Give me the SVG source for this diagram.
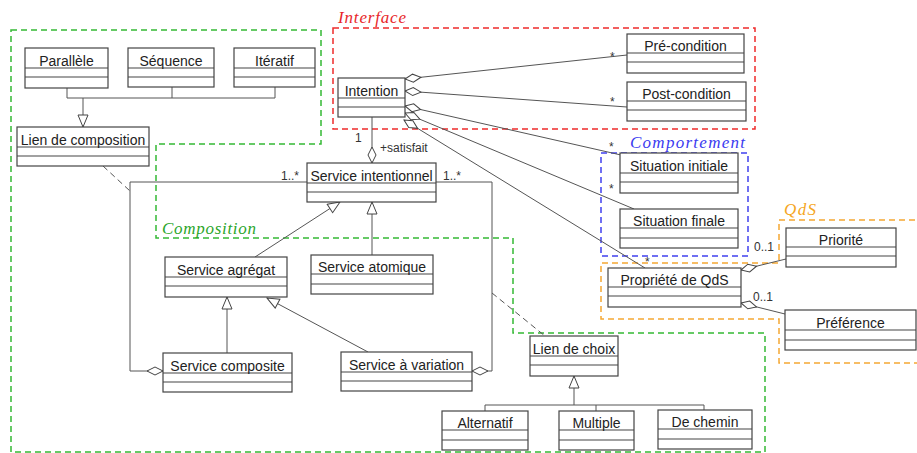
<svg xmlns="http://www.w3.org/2000/svg" width="917" height="453" viewBox="0 0 917 453">
<style>
.box rect{fill:#fff;stroke:#444;stroke-width:1.2}
.box line{stroke:#444;stroke-width:1.2}
.box text{font-family:"Liberation Sans",Arial,sans-serif;font-size:14px;fill:#222;text-anchor:middle}
.c{fill:none;stroke:#555;stroke-width:1}
.dash{stroke-dasharray:6,4}
.lbl{font-family:"Liberation Sans",Arial,sans-serif;font-size:12px;fill:#333}
.grp{font-family:"Liberation Serif","Times New Roman",serif;font-style:italic;font-size:17px}
.zone{fill:none;stroke-width:1.5;stroke-dasharray:6,4}
</style>
<defs>
<marker id="dia" markerUnits="userSpaceOnUse" markerWidth="18" markerHeight="12" refX="1" refY="5" orient="auto"><path d="M1,5 L9,1 L17,5 L9,9 Z" fill="#fff" stroke="#444" stroke-width="1"/></marker>
<marker id="tri" markerUnits="userSpaceOnUse" markerWidth="14" markerHeight="14" refX="13" refY="6" orient="auto"><path d="M1,1 L13,6 L1,11 Z" fill="#fff" stroke="#444" stroke-width="1"/></marker>
</defs>
<rect width="917" height="453" fill="#fff"/>

<g id="zones">
<polygon class="zone" stroke="#35b935" points="11,30 321,30 321,144 156,144 156,238 513,238 513,333 765,333 765,452 11,452"/>
<text class="grp" x="162" y="234" fill="#2aa52a" textLength="94">Composition</text>
<rect class="zone" stroke="#ee2b2b" x="333" y="28" width="422" height="101"/>
<text class="grp" x="338" y="23" fill="#e8262b" textLength="68">Interface</text>
<rect class="zone" stroke="#4040ee" x="601" y="153" width="147" height="103"/>
<text class="grp" x="630" y="148" fill="#3a3af0" textLength="115">Comportement</text>
<polygon class="zone" stroke="#f5a833" points="779,220 918,220 918,363 779,363 779,319 601,319 601,263 779,263"/>
<text class="grp" x="784" y="215" fill="#f5a623" textLength="32">QdS</text>
</g>

<g id="connectors">
<polyline class="c" points="67,88 67,98 275,98 275,87"/>
<line class="c" x1="172" y1="87" x2="172" y2="98"/>
<line class="c" x1="83" y1="98" x2="83" y2="127" marker-end="url(#tri)"/>
<line class="c" x1="372" y1="163" x2="372" y2="117" marker-start="url(#dia)"/>
<line class="c" x1="405" y1="79" x2="627" y2="55" marker-start="url(#dia)"/>
<line class="c" x1="405" y1="91" x2="627" y2="107" marker-start="url(#dia)"/>
<line class="c" x1="405" y1="106" x2="621" y2="155" marker-start="url(#dia)"/>
<line class="c" x1="405" y1="113" x2="634" y2="209" marker-start="url(#dia)"/>
<line class="c" x1="404" y1="120" x2="645" y2="268" marker-start="url(#dia)"/>
<line class="c" x1="741" y1="270" x2="786" y2="259" marker-start="url(#dia)"/>
<line class="c" x1="741" y1="303" x2="785" y2="314" marker-start="url(#dia)"/>
<polyline class="c" points="163,371 130,371 130,182 307,182" marker-start="url(#dia)"/>
<polyline class="c" points="472,371 492,371 492,182 436,182" marker-start="url(#dia)"/>
<line class="c" x1="255" y1="257" x2="340" y2="202" marker-end="url(#tri)"/>
<line class="c" x1="372" y1="255" x2="372" y2="202" marker-end="url(#tri)"/>
<line class="c" x1="227" y1="353" x2="227" y2="297" marker-end="url(#tri)"/>
<line class="c" x1="368" y1="352" x2="267" y2="298" marker-end="url(#tri)"/>
<line class="c dash" x1="103" y1="166" x2="130" y2="191"/>
<line class="c dash" x1="492" y1="293" x2="545" y2="336"/>
<line class="c" x1="574" y1="405" x2="574" y2="376" marker-end="url(#tri)"/>
<polyline class="c" points="485,411 485,405 704,405 704,410"/>
<line class="c" x1="596" y1="405" x2="596" y2="411"/>
<text class="lbl" x="355" y="142">1</text>
<text class="lbl" x="380" y="152">+satisfait</text>
<text class="lbl" x="281" y="180">1..*</text>
<text class="lbl" x="443" y="180">1..*</text>
<text class="lbl" x="610" y="61">*</text>
<text class="lbl" x="610" y="106">*</text>
<text class="lbl" x="609" y="151">*</text>
<text class="lbl" x="609" y="193">*</text>
<text class="lbl" x="645" y="266">*</text>
<text class="lbl" x="754" y="251">0..1</text>
<text class="lbl" x="753" y="301">0..1</text>
</g>

<g id="parallele" class="box"><rect x="25" y="48" width="83" height="40"/><line x1="25" y1="68" x2="108" y2="68"/><line x1="25" y1="77" x2="108" y2="77"/><text x="66.5" y="66">Parallèle</text></g>
<g id="sequence" class="box"><rect x="128" y="48" width="86" height="39"/><line x1="128" y1="68" x2="214" y2="68"/><line x1="128" y1="77" x2="214" y2="77"/><text x="171" y="66">Séquence</text></g>
<g id="iteratif" class="box"><rect x="234" y="48" width="81" height="39"/><line x1="234" y1="68" x2="315" y2="68"/><line x1="234" y1="77" x2="315" y2="77"/><text x="274.5" y="66">Itératif</text></g>
<g id="lien-composition" class="box"><rect x="17" y="127" width="132" height="39"/><line x1="17" y1="147" x2="149" y2="147"/><line x1="17" y1="156" x2="149" y2="156"/><text x="83" y="145">Lien de composition</text></g>
<g id="intention" class="box"><rect x="338" y="78" width="67" height="39"/><line x1="338" y1="98" x2="405" y2="98"/><line x1="338" y1="107" x2="405" y2="107"/><text x="371.5" y="96">Intention</text></g>
<g id="pre-condition" class="box"><rect x="627" y="34" width="117" height="39"/><line x1="627" y1="53" x2="744" y2="53"/><line x1="627" y1="62" x2="744" y2="62"/><text x="685.5" y="51">Pré-condition</text></g>
<g id="post-condition" class="box"><rect x="627" y="82" width="119" height="39"/><line x1="627" y1="101" x2="746" y2="101"/><line x1="627" y1="110" x2="746" y2="110"/><text x="686.5" y="99">Post-condition</text></g>
<g id="situation-initiale" class="box"><rect x="620" y="153" width="118" height="40"/><line x1="620" y1="173" x2="738" y2="173"/><line x1="620" y1="182" x2="738" y2="182"/><text x="679" y="171">Situation initiale</text></g>
<g id="situation-finale" class="box"><rect x="620" y="209" width="118" height="39"/><line x1="620" y1="228" x2="738" y2="228"/><line x1="620" y1="238" x2="738" y2="238"/><text x="679" y="226">Situation finale</text></g>
<g id="propriete-qds" class="box"><rect x="608" y="268" width="133" height="39"/><line x1="608" y1="287" x2="741" y2="287"/><line x1="608" y1="296" x2="741" y2="296"/><text x="674.5" y="285">Propriété de QdS</text></g>
<g id="priorite" class="box"><rect x="786" y="228" width="110" height="39"/><line x1="786" y1="247" x2="896" y2="247"/><line x1="786" y1="256" x2="896" y2="256"/><text x="841" y="245">Priorité</text></g>
<g id="preference" class="box"><rect x="785" y="310" width="131" height="40"/><line x1="785" y1="330" x2="916" y2="330"/><line x1="785" y1="340" x2="916" y2="340"/><text x="850.5" y="328">Préférence</text></g>
<g id="service-intentionnel" class="box"><rect x="307" y="163" width="129" height="39"/><line x1="307" y1="183" x2="436" y2="183"/><line x1="307" y1="192" x2="436" y2="192"/><text x="371.5" y="181">Service intentionnel</text></g>
<g id="service-agregat" class="box"><rect x="165" y="257" width="122" height="40"/><line x1="165" y1="277" x2="287" y2="277"/><line x1="165" y1="286" x2="287" y2="286"/><text x="226" y="275">Service agrégat</text></g>
<g id="service-atomique" class="box"><rect x="311" y="255" width="122" height="39"/><line x1="311" y1="274" x2="433" y2="274"/><line x1="311" y1="284" x2="433" y2="284"/><text x="372" y="272">Service atomique</text></g>
<g id="service-composite" class="box"><rect x="163" y="353" width="129" height="39"/><line x1="163" y1="373" x2="292" y2="373"/><line x1="163" y1="382" x2="292" y2="382"/><text x="227.5" y="371">Service composite</text></g>
<g id="service-variation" class="box"><rect x="341" y="352" width="131" height="39"/><line x1="341" y1="372" x2="472" y2="372"/><line x1="341" y1="381" x2="472" y2="381"/><text x="406.5" y="370">Service à variation</text></g>
<g id="lien-choix" class="box"><rect x="530" y="336" width="88" height="40"/><line x1="530" y1="356" x2="618" y2="356"/><line x1="530" y1="365" x2="618" y2="365"/><text x="574" y="354">Lien de choix</text></g>
<g id="alternatif" class="box"><rect x="442" y="411" width="86" height="39"/><line x1="442" y1="430" x2="528" y2="430"/><line x1="442" y1="440" x2="528" y2="440"/><text x="485" y="428">Alternatif</text></g>
<g id="multiple" class="box"><rect x="559" y="411" width="75" height="39"/><line x1="559" y1="430" x2="634" y2="430"/><line x1="559" y1="440" x2="634" y2="440"/><text x="596.5" y="428">Multiple</text></g>
<g id="de-chemin" class="box"><rect x="658" y="410" width="94" height="39"/><line x1="658" y1="429" x2="752" y2="429"/><line x1="658" y1="439" x2="752" y2="439"/><text x="705" y="427">De chemin</text></g>
</svg>
